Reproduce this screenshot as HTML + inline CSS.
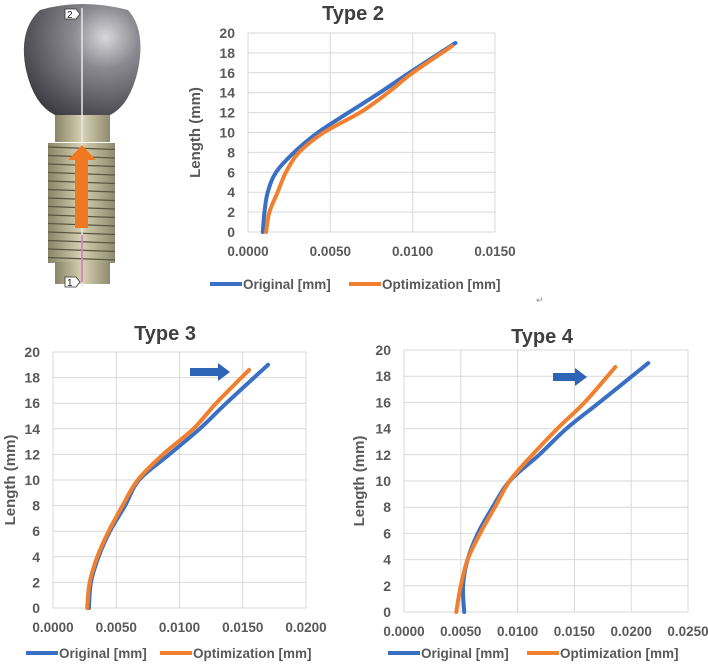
<!DOCTYPE html>
<html><head><meta charset="utf-8">
<style>
body{margin:0;width:708px;height:662px;background:#fff;overflow:hidden;font-family:"Liberation Sans",Arial,sans-serif;}
svg text{font-family:"Liberation Sans",Arial,sans-serif;}
</style></head>
<body>
<svg id="root" width="708" height="662" viewBox="0 0 708 662" xmlns="http://www.w3.org/2000/svg">
<defs>
<radialGradient id="crownG" cx="0.7" cy="0.3" r="0.8">
<stop offset="0" stop-color="#d8d8dc"/><stop offset="0.35" stop-color="#8a8a90"/><stop offset="1" stop-color="#3e3e44"/>
</radialGradient>
<linearGradient id="metalG" x1="0" x2="1">
<stop offset="0" stop-color="#8a8468"/><stop offset="0.5" stop-color="#d8d2b4"/><stop offset="1" stop-color="#8f896e"/>
</linearGradient>
</defs>
<g>
<path d="M40 10 Q82 -2 128 10 Q146 30 138 70 Q130 105 110 115 L55 115 Q34 105 26 70 Q18 30 40 10 Z" fill="url(#crownG)"/>
<rect x="55" y="115" width="55" height="27" fill="url(#metalG)"/>
<rect x="48" y="143" width="67" height="120" fill="url(#metalG)"/>
<g id="threads" stroke="#5a5640" stroke-width="1.3"></g>
<rect x="55" y="262" width="55" height="22" fill="url(#metalG)"/>
<line x1="82" y1="8" x2="82" y2="286" stroke="#e8e8e8" stroke-width="1.5"/>
<line x1="82" y1="235" x2="82" y2="282" stroke="#d070c0" stroke-width="1.5"/>
<polygon points="82,145 96,160 88,160 88,228 75,228 75,160 68,160" fill="#f07820"/>
<path d="M65 9 L76 9 L80 14 L76 19 L65 19 Z" fill="#fff" stroke="#333" stroke-width="0.8"/>
<text x="67" y="18" font-size="10" fill="#222">2</text>
<path d="M65 277 L76 277 L80 282 L76 287 L65 287 Z" fill="#fff" stroke="#333" stroke-width="0.8"/>
<text x="67" y="286" font-size="10" fill="#222">1</text>
</g>
<text x="536" y="303" font-size="9" fill="#888">↵</text>
<g id="c2"></g><g id="c3"></g><g id="c4"></g>
</svg>
<script>
const t2Len=[0,2,4,6,8,10,12,14,16,19];
const t2Orig=[0.0009,0.0010,0.0012,0.0017,0.0028,0.00425,0.0061,0.0080,0.0098,0.0126];
const t2OptLen=[0,2,4,6,8,10,12,14,16,18.7];
const t2Opt=[0.0011,0.0013,0.0018,0.0023,0.0031,0.0046,0.0068,0.0085,0.0100,0.0124];
const t3Len=[0,2,4,6,8,10,12,14,16,19];
const t3Orig=[0.00284,0.0030,0.0036,0.0045,0.0057,0.0068,0.0092,0.0116,0.0137,0.0170];
const t3OptLen=[0,2,4,6,8,10,12,14,16,18.6];
const t3Opt=[0.0027,0.0029,0.0035,0.0044,0.0055,0.0067,0.0087,0.0111,0.0129,0.0155];
const t4Len=[0,2,4,6,8,10,12,14,16,19];
const t4Orig=[0.0053,0.0052,0.0056,0.0065,0.0078,0.0093,0.0119,0.0143,0.0172,0.0215];
const t4OptLen=[0,2,4,6,8,10,12,14,16,18.7];
const t4Opt=[0.0046,0.0050,0.0056,0.0067,0.0080,0.0093,0.0113,0.0135,0.0159,0.0186];
const yTicks=[0,2,4,6,8,10,12,14,16,18,20];
const xTicks2=[0,0.005,0.01,0.015];
const xTicks3=[0,0.005,0.01,0.015,0.02];
const xTicks4=[0,0.005,0.01,0.015,0.02,0.025];

const NS="http://www.w3.org/2000/svg";
function mk(tag,attrs,parent){const e=document.createElementNS(NS,tag);for(const k in attrs)e.setAttribute(k,attrs[k]);parent.appendChild(e);return e;}
const th=document.getElementById('threads');
for(let y=147;y<262;y+=8.5){const l=mk('path',{d:'M48 '+y+' L115 '+(y+2.5)},th);}

function smooth(pts){
  let d='M'+pts[0][0]+' '+pts[0][1];
  for(let i=0;i<pts.length-1;i++){
    const p0=pts[Math.max(0,i-1)],p1=pts[i],p2=pts[i+1],p3=pts[Math.min(pts.length-1,i+2)];
    const c1=[p1[0]+(p2[0]-p0[0])/6,p1[1]+(p2[1]-p0[1])/6];
    const c2=[p2[0]-(p3[0]-p1[0])/6,p2[1]-(p3[1]-p1[1])/6];
    d+=' C'+c1[0]+' '+c1[1]+' '+c2[0]+' '+c2[1]+' '+p2[0]+' '+p2[1];
  }
  return d;
}

function chart(gid,cfg){
  const g=document.getElementById(gid);
  const {L,R,T,B,xmax,xt,title,tx,ty,ytx,legY,leg,orig,origLen,opt,optLen,arrow}=cfg;
  const sx=v=>L+(R-L)*v/xmax, sy=v=>B-(B-T)*v/20;
  for(const v of yTicks){
    const ln=mk('line',{x1:L,x2:R,y1:sy(v),y2:sy(v),stroke:'#d9d9d9','stroke-width':1},g);
    
    const t=mk('text',{x:L-13,y:sy(v)+5,'text-anchor':'end','font-size':14,'font-weight':'bold',fill:'#595959'},g);
    t.textContent=v;
  }
  for(const v of xt){
    const ln=mk('line',{x1:sx(v),x2:sx(v),y1:T,y2:B,stroke:'#d9d9d9','stroke-width':1},g);
    
    const t=mk('text',{x:sx(v),y:B+24,'text-anchor':'middle','font-size':13.5,'font-weight':'bold',fill:'#595959'},g);
    t.textContent=v.toFixed(4);
  }
  const tt=mk('text',{x:tx,y:ty,'text-anchor':'middle','font-size':20,'font-weight':'bold',fill:'#404040'},g);
  tt.textContent=title;
  const yt=mk('text',{x:0,y:0,transform:'translate('+ytx+','+((T+B)/2)+') rotate(-90)','text-anchor':'middle','font-size':15,'font-weight':'bold',fill:'#595959'},g);
  yt.textContent='Length (mm)';
  const p1=mk('path',{d:smooth(orig.map((v,i)=>[sx(v),sy(origLen[i])])),fill:'none',stroke:'#3a6fc4','stroke-width':4,'stroke-linejoin':'round','stroke-linecap':'round'},g);
  
  const p2=mk('path',{d:smooth(opt.map((v,i)=>[sx(v),sy(optLen[i])])),fill:'none',stroke:'#f08030','stroke-width':4,'stroke-linejoin':'round','stroke-linecap':'round'},g);
  
  if(arrow){const a=mk('polygon',{points:`${arrow[0]},${arrow[1]+5} ${arrow[2]-12},${arrow[1]+5} ${arrow[2]-12},${arrow[1]} ${arrow[2]},${arrow[1]+9} ${arrow[2]-12},${arrow[1]+18} ${arrow[2]-12},${arrow[1]+13} ${arrow[0]},${arrow[1]+13}`,fill:'#2e64b8'},g);
    }
  const cols=['#3a6fc4','#f08030'],names=['Original [mm]','Optimization [mm]'];
  for(let i=0;i<2;i++){
    const l=mk('line',{x1:leg[i],x2:leg[i]+32,y1:legY,y2:legY,stroke:cols[i],'stroke-width':4},g);
    
    const t=mk('text',{x:leg[i]+33,y:legY+5,'font-size':13.5,'font-weight':'bold',fill:'#595959'},g);
    t.textContent=names[i];
  }
}
chart('c2',{L:248,R:495,T:33,B:232,xmax:0.015,xt:xTicks2,title:'Type 2',tx:353,ty:20,ytx:200,legY:284,leg:[210,349],orig:t2Orig,origLen:t2Len,opt:t2Opt,optLen:t2OptLen});
chart('c3',{L:53,R:306,T:352,B:608,xmax:0.02,xt:xTicks3,title:'Type 3',tx:165,ty:340,ytx:15,legY:653,leg:[26,160],orig:t3Orig,origLen:t3Len,opt:t3Opt,optLen:t3OptLen,arrow:[190,363,230]});
chart('c4',{L:404,R:688,T:350,B:612,xmax:0.025,xt:xTicks4,title:'Type 4',tx:542,ty:343,ytx:364,legY:653,leg:[388,527],orig:t4Orig,origLen:t4Len,opt:t4Opt,optLen:t4OptLen,arrow:[553,368,587]});
</script>
</body></html>
